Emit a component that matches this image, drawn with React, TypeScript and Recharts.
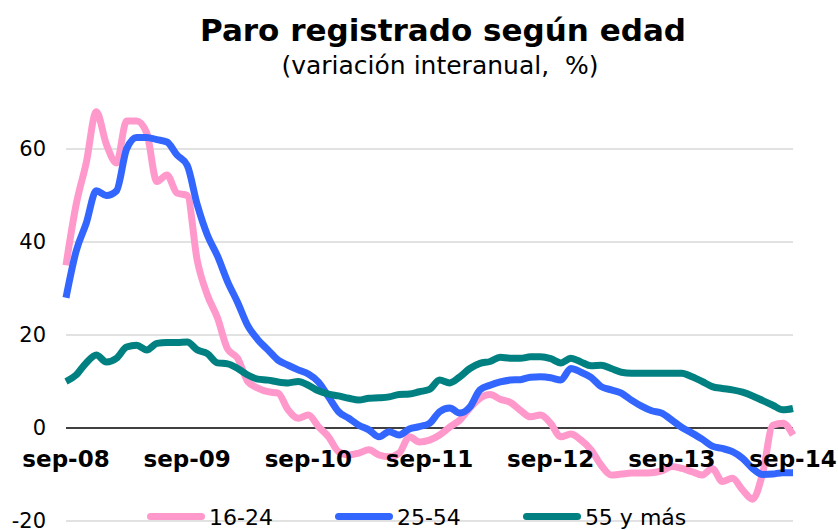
import React from 'react';
import { LineChart, Line, XAxis, YAxis, CartesianGrid, ReferenceLine } from 'recharts';

const MONTHS = ['ene', 'feb', 'mar', 'abr', 'may', 'jun', 'jul', 'ago', 'sep', 'oct', 'nov', 'dic'];

// sep-08 .. sep-14, monthly (73 points)
const age16to24 = [
  35, 48, 57, 68, 61, 57, 66, 66, 63.4, 53, 54.4, 50.5, 50,
  36, 28.6, 23.7, 17, 15, 10, 8.6, 7.8, 7.5, 3.9, 2.1, 2.8,
  0.3, -1.9, -5.1, -5.8, -5.4, -4.7, -5.8, -6.2, -5.4, -1.9, -3, -2.6,
  -1.5, 0.2, 1.7, 4.3, 6.4, 7.2, 6.2, 5.5, 3.8, 2.4, 2.8, 1,
  -1.9, -1.3, -2.6, -4.7, -8, -10.1, -9.9, -9.7, -9.7, -9.6, -9.2, -8.3,
  -8.7, -9.4, -10.1, -8.7, -11.5, -10.8, -13.3, -15.3, -9.7, 0.6, 1, -1.5,
];
const age25to54 = [
  28, 38, 44, 51, 50, 51, 60, 62.5, 62.5, 62, 61.5, 58.7, 56.5,
  48, 41.5, 37, 31.5, 27, 22, 19, 16.8, 14.6, 13.5, 12.5, 11.6,
  9.9, 6.7, 3.5, 2.1, 0.6, -0.4, -1.9, -0.8, -1.5, -0.2, 0.3, 1,
  3.5, 4.3, 3.2, 4.5, 8.2, 9.2, 9.9, 10.3, 10.4, 10.9, 11, 10.8,
  10.3, 12.8, 12, 10.9, 8.9, 8.2, 7.5, 6, 4.7, 3.7, 3.2, 1.7,
  0.1, -1.1, -2.4, -3.9, -4.4, -5.1, -6.5, -8.7, -10, -9.9, -9.6, -9.6,
];
const age55plus = [
  10, 11.4, 14, 15.7, 14.2, 15, 17.4, 17.8, 16.8, 18.2, 18.4, 18.4, 18.5,
  16.8, 16, 14, 13.8, 12.8, 11.4, 10.5, 10.3, 9.9, 9.7, 10, 9.2,
  8, 7.3, 6.9, 6.4, 6, 6.4, 6.5, 6.7, 7.2, 7.3, 7.8, 8.3,
  10.3, 9.7, 11, 12.8, 13.9, 14.3, 15.2, 15, 15, 15.3, 15.3, 14.9,
  14, 15, 14.2, 13.4, 13.5, 12.8, 12, 11.8, 11.8, 11.8, 11.8, 11.8,
  11.8, 11, 10, 8.9, 8.5, 8.2, 7.7, 6.9, 5.9, 4.9, 3.9, 4.2,
];

const yTicks = [-20, 0, 20, 40, 60];
const gridValues = [-20, 20, 40, 60];

const SERIES = [
  { key: 'a', name: '16-24', color: '#FF99CC' },
  { key: 'b', name: '25-54', color: '#3366FF' },
  { key: 'c', name: '55 y más', color: '#008080' },
];

const FONT = '"DejaVu Sans", Verdana, sans-serif';

const chartData = age16to24.map((v, i) => {
  const m = (8 + i) % 12;
  const yr = 8 + Math.floor((8 + i) / 12);
  return {
    month: `${MONTHS[m]}-${String(yr).padStart(2, '0')}`,
    a: v,
    b: age25to54[i],
    c: age55plus[i],
  };
});

const MonthTick = (props: any) => {
  const { x, y, payload } = props;
  return (
    <text x={x} y={y} dy={-56} textAnchor="middle" fontFamily={FONT} fontSize={23} fontWeight="bold" fill="#000">
      {payload.value}
    </text>
  );
};

export default function App() {
  return (
    <div style={{ position: 'absolute', left: 0, top: 0, width: 838, height: 530, background: '#fff', fontFamily: FONT, overflow: 'hidden' }}>
      <div style={{ position: 'absolute', left: 0, top: 12, width: 886, textAlign: 'center', fontSize: 31, fontWeight: 'bold', lineHeight: '36px' }}>
        Paro registrado según edad
      </div>
      <div style={{ position: 'absolute', left: 0, top: 51, width: 880, textAlign: 'center', fontSize: 25, lineHeight: '30px', whiteSpace: 'pre' }}>
        (variación interanual,  %)
      </div>
      <LineChart
        width={838}
        height={530}
        data={chartData}
        margin={{ top: 102.5, right: 45, bottom: 8, left: 0 }}
        style={{ overflow: 'visible' }}
      >
        <CartesianGrid vertical={false} stroke="#D9D9D9" strokeWidth={1.5} horizontalValues={gridValues} />
        <YAxis
          domain={[-20, 70]}
          ticks={yTicks}
          interval={0}
          width={66}
          axisLine={false}
          tickLine={false}
          tickSize={0}
          tickMargin={20}
          tick={{ fontFamily: FONT, fontSize: 21, fill: '#000' }}
        />
        <XAxis
          dataKey="month"
          interval={11}
          height={1}
          axisLine={false}
          tickLine={false}
          tickSize={0}
          tick={<MonthTick />}
        />
        <ReferenceLine y={0} stroke="#000" strokeWidth={1.5} />
        {SERIES.map((s) => (
          <Line
            key={s.key}
            type="monotone"
            dataKey={s.key}
            name={s.name}
            stroke={s.color}
            strokeWidth={7}
            dot={false}
            isAnimationActive={false}
          />
        ))}
      </LineChart>
      <div style={{ position: 'absolute', left: 147, top: 507, display: 'flex', gap: 62, alignItems: 'center' }}>
        {SERIES.map((s) => (
          <div key={s.key} style={{ display: 'flex', alignItems: 'center', gap: 4 }}>
            <div style={{ width: 58, height: 7, borderRadius: 4, background: s.color, marginTop: -4 }} />
            <span style={{ fontSize: 22, lineHeight: '22px', color: '#000' }}>{s.name}</span>
          </div>
        ))}
      </div>
    </div>
  );
}
